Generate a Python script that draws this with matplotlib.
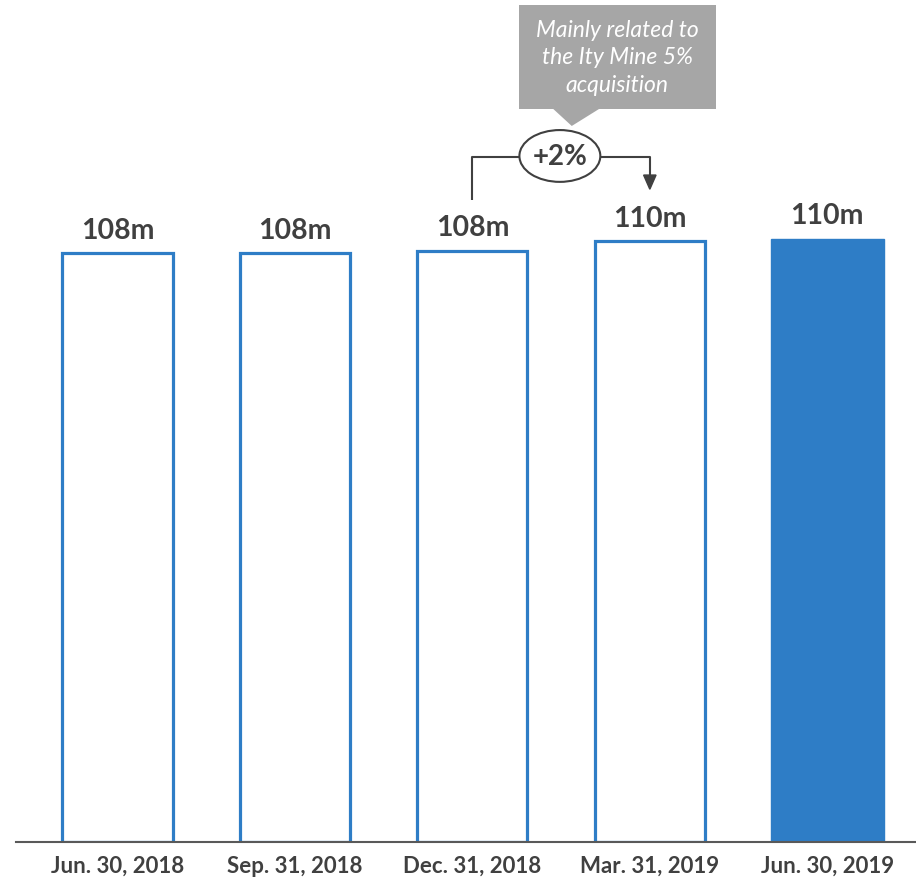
import matplotlib
matplotlib.use('Agg')
import matplotlib.pyplot as plt
from matplotlib.patches import Ellipse, Rectangle, Polygon

plt.rcParams['font.family'] = ['Lato', 'DejaVu Sans']

# данные
dates = ['Jun. 30, 2018', 'Sep. 31, 2018', 'Dec. 31, 2018', 'Mar. 31, 2019', 'Jun. 30, 2019']
values = [108.0, 108.0, 108.4, 110.2, 110.6]
labels = ['108m', '108m', '108m', '110m', '110m']
filled = [False, False, False, False, True]

blue = '#2E7DC6'
dark = '#404040'

fig = plt.figure(figsize=(9.16, 8.84), dpi=100)
ax = fig.add_axes([16 / 916, 42 / 884, 900 / 916, 842 / 884])
ax.set_xlim(-0.572, 4.5)
ax.set_ylim(0, 154.4)

x = list(range(len(values)))
for i, v in enumerate(values):
    if filled[i]:
        ax.bar(i, v, width=0.635, color=blue, edgecolor=blue, linewidth=1)
    else:
        ax.bar(i, v, width=0.62, facecolor='white', edgecolor=blue, linewidth=2.3)
    ax.text(i, v + 4.1, labels[i], ha='center', va='center', fontsize=20.5,
            fontweight='bold', color=dark)

ax.set_xticks(x)
ax.set_xticklabels(dates, fontsize=16, fontweight='bold', color=dark)
ax.tick_params(axis='x', length=0, pad=10)
ax.set_yticks([])
for s in ['top', 'right', 'left']:
    ax.spines[s].set_visible(False)
ax.spines['bottom'].set_color('#595959')
ax.spines['bottom'].set_linewidth(1.5)

# скобка +2%
ax.plot([2, 2, 3, 3], [117.7, 125.6, 125.6, 121.5], color=dark, lw=1.5,
        solid_capstyle='butt', clip_on=False)
ax.add_patch(Polygon([[2.965, 122.3], [3.035, 122.3], [3.0, 119.7]],
                     closed=True, color=dark, clip_on=False))
ax.add_patch(Ellipse((2.493, 125.8), 0.456, 9.5, facecolor='white',
                     edgecolor=dark, lw=1.5, clip_on=False, zorder=3))
ax.text(2.493, 125.6, '+2%', ha='center', va='center', fontsize=20,
        fontweight='bold', color=dark, zorder=4)

# выноска
grey = '#A6A6A6'
ax.add_patch(Rectangle((2.262, 134.4), 1.11, 19.1, color=grey, lw=0, clip_on=False))
ax.add_patch(Polygon([[2.453, 134.5], [2.718, 134.5], [2.56, 131.3]],
                     closed=True, color=grey, lw=0, clip_on=False))
ax.text(2.817, 143.8, 'Mainly related to\nthe Ity Mine 5%\nacquisition',
        ha='center', va='center', fontsize=16.5, style='italic', color='white',
        linespacing=1.38)

fig.savefig('out.png', dpi=100)
